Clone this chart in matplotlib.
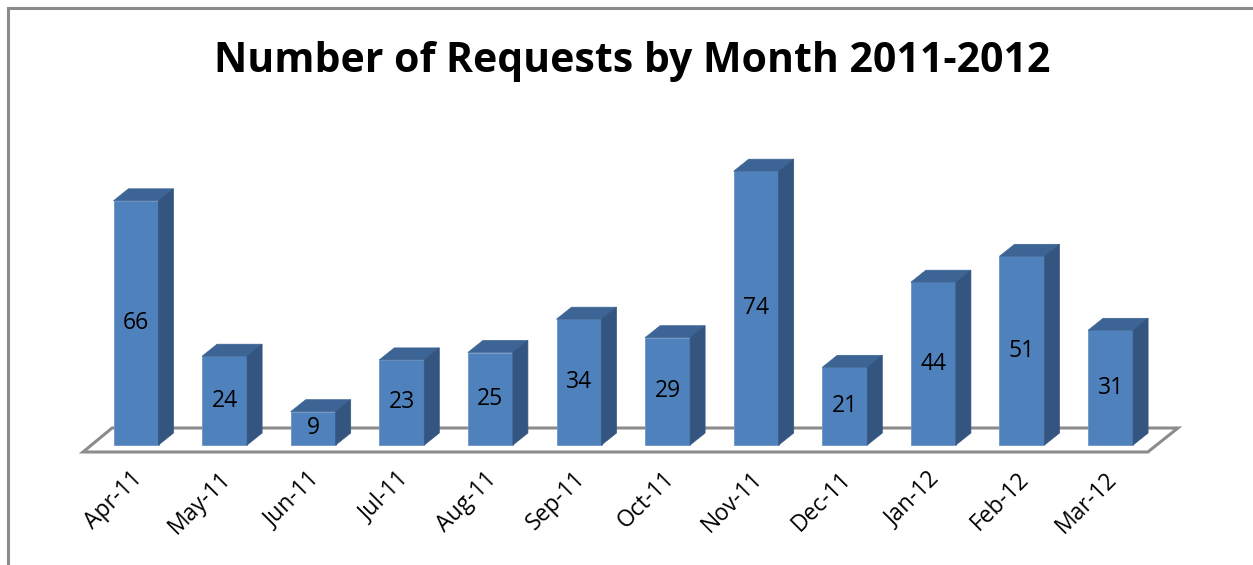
import numpy as np
import matplotlib.pyplot as plt
from matplotlib.patches import Polygon, Rectangle

# Daten
months = ["Apr-11", "May-11", "Jun-11", "Jul-11", "Aug-11", "Sep-11",
          "Oct-11", "Nov-11", "Dec-11", "Jan-12", "Feb-12", "Mar-12"]
requests = [66, 24, 9, 23, 25, 34, 29, 74, 21, 44, 51, 31]

W, H = 1253, 565
fig = plt.figure(figsize=(W / 100, H / 100), dpi=100)
ax = fig.add_axes([0, 0, 1, 1])

# Pixel-Skala: Index 0 bei x=136px, 88.6px pro Balken; Wert 0 bei y=445px, 3.7px pro Einheit
px_x, x0 = 88.6, 136
px_y, y0 = 3.7, 445
ax.set_xlim(-x0 / px_x, (W - x0) / px_x)
ax.set_ylim(-(H - y0) / px_y, y0 / px_y)
ax.axis("off")

bw = 45 / px_x   # Balkenbreite
dx = 15 / px_x   # Tiefe x
dy = 12 / px_y   # Tiefe y

front_c = "#4F81BD"
top_c = "#3C6494"
side_c = "#34557F"

# Boden
floor = Polygon([(-0.598, -7 / px_y), (11.42, -7 / px_y),
                 (11.76, 17 / px_y), (-0.27, 17 / px_y)],
                closed=True, facecolor="white", edgecolor="#8C8C8C", lw=2.2, zorder=1)
ax.add_patch(floor)

for i, v in enumerate(requests):
    l, r = i - bw / 2, i + bw / 2
    ax.add_patch(Rectangle((l, 0), bw, v, facecolor=front_c, edgecolor="#6D94C6", lw=0.6, zorder=3))
    ax.add_patch(Polygon([(l, v), (r, v), (r + dx, v + dy), (l + dx, v + dy)],
                         closed=True, facecolor=top_c, edgecolor=top_c, lw=0.5, zorder=3))
    ax.add_patch(Polygon([(r, 0), (r + dx, dy), (r + dx, v + dy), (r, v)],
                         closed=True, facecolor=side_c, edgecolor=side_c, lw=0.5, zorder=3))
    ax.text(i, v / 2, str(v), ha="center", va="center", fontsize=16.5,
            family="Open Sans", color="black", zorder=4)
    ax.text(i - 0.06, -22 / px_y, months[i], ha="right", va="top", rotation=45,
            rotation_mode="anchor", fontsize=16.5, family="Open Sans", color="black")

# Titel
fig.text(632 / W, 1 - 62 / H, "Number of Requests by Month 2011-2012", ha="center", va="center",
         fontsize=29.5, fontweight="bold", family="Open Sans")

# Rahmen (nur oben und links sichtbar)
fig.add_artist(plt.Line2D([8 / W, 8 / W], [0, 1 - 8 / H], color="#8A8A8A", lw=2.2))
fig.add_artist(plt.Line2D([8 / W, 1], [1 - 8 / H, 1 - 8 / H], color="#8A8A8A", lw=2.2))

fig.savefig("out.png", dpi=100)
